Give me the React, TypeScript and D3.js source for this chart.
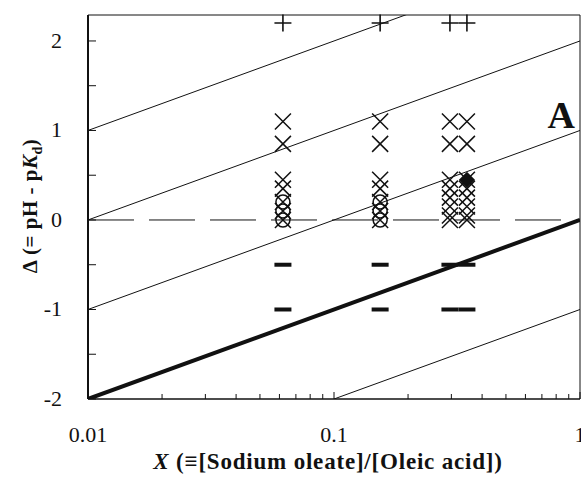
import React from "react";
import * as d3 from "d3";

// sample ratios X (one column of markers each)
const columns = [0.062, 0.154, 0.296, 0.347];
// Δ values
const plusY = [2.2];
const crossUpperY = [1.1, 0.85];
const crossLowerNarrow = [0.45, 0.35, 0.2, 0.1, 0];
const crossLowerWide = [0.45, 0.35, 0.25, 0.15, 0.05, 0];
const circleY = [0.2, 0.1, 0];
const minusY = [-0.5, -1];
const diamondPts = [{ x: 0.347, y: 0.45 }];
// boundary lines Δ = log10(X) + c
const thinOffsets = [3, 2, 1, -1];
const thickOffset = 0;
const yMajor = [-2, -1, 0, 1, 2];
const yMinor = [-1.5, -0.5, 0.5, 1.5];
const xMajor = [0.01, 0.1, 1];
const xLabels = ["0.01", "0.1", "1"];

const W = 581;
const H = 482;
const left = 88;
const right = 580;
const top = 15;
const bottom = 399;
const font = "'Liberation Serif', 'Times New Roman', serif";

export default function App() {
  const x = d3.scaleLog().domain([0.01, 1]).range([left, right]);
  const y = d3.scaleLinear().domain([-2, 2.29]).range([bottom, top]);

  const xMinor: number[] = [];
  [0.01, 0.1].forEach(d => {
    for (let k = 2; k <= 9; k++) xMinor.push(d * k);
  });

  // straight line Δ = log10(X) + c, starting where it enters the plot
  const segment = (c: number) => {
    const x0 = Math.max(0.01, Math.pow(10, -2 - c));
    const x1 = 1;
    return `M${x(x0)},${y(Math.log10(x0) + c)}L${x(x1)},${y(Math.log10(x1) + c)}`;
  };

  const cross = (cx: number, cy: number, s: number) =>
    `M${cx - s},${cy - s}L${cx + s},${cy + s}M${cx - s},${cy + s}L${cx + s},${cy - s}`;
  const plus = (cx: number, cy: number, s: number) =>
    `M${cx - s},${cy}L${cx + s},${cy}M${cx},${cy - s}L${cx},${cy + s}`;

  const crossPts: { x: number; y: number }[] = [];
  columns.forEach((c, i) => {
    crossUpperY.forEach(v => crossPts.push({ x: c, y: v }));
    (i < 2 ? crossLowerNarrow : crossLowerWide).forEach(v => crossPts.push({ x: c, y: v }));
  });
  const circlePts: { x: number; y: number }[] = [];
  columns.slice(0, 2).forEach(c => circleY.forEach(v => circlePts.push({ x: c, y: v })));

  return (
    <svg
      width={W}
      height={H}
      style={{ position: "absolute", left: 0, top: 0, background: "#fff" }}
      fontFamily={font}
    >
      <defs>
        <clipPath id="plot">
          <rect x={left} y={top} width={right - left} height={bottom - top} />
        </clipPath>
      </defs>

      <g clipPath="url(#plot)">
        {thinOffsets.map(c => (
          <path key={c} d={segment(c)} stroke="#111" strokeWidth={1} fill="none" />
        ))}
        <path d={segment(thickOffset)} stroke="#111" strokeWidth={4} fill="none" />
        <line
          x1={left}
          x2={right}
          y1={y(0)}
          y2={y(0)}
          stroke="#111"
          strokeWidth={1}
          strokeDasharray="46 15"
        />
      </g>

      {/* frame */}
      <line x1={left} x2={right} y1={top} y2={top} stroke="#111" strokeWidth={1} />
      <line x1={right} x2={right} y1={top} y2={bottom} stroke="#111" strokeWidth={1} />
      <line x1={left} x2={left} y1={top} y2={bottom} stroke="#111" strokeWidth={2} />
      <line x1={left} x2={right} y1={bottom} y2={bottom} stroke="#111" strokeWidth={1.5} />

      {/* y ticks */}
      {yMajor.concat(yMinor).map(v => (
        <line key={v} x1={left} x2={left + 8} y1={y(v)} y2={y(v)} stroke="#111" strokeWidth={1} />
      ))}
      {yMajor.map(v => (
        <text key={v} x={62} y={y(v) + 7} textAnchor="end" fontSize={22} fill="#111">
          {v}
        </text>
      ))}

      {/* x ticks */}
      {xMinor.map(v => (
        <line key={v} x1={x(v)} x2={x(v)} y1={bottom} y2={bottom - 5} stroke="#111" strokeWidth={1} />
      ))}
      {xMajor.map(v => (
        <line key={v} x1={x(v)} x2={x(v)} y1={bottom} y2={bottom - 7} stroke="#111" strokeWidth={1} />
      ))}
      {xMajor.map((v, i) => (
        <text key={v} x={x(v)} y={442} textAnchor="middle" fontSize={22} fill="#111">
          {xLabels[i]}
        </text>
      ))}

      {/* markers */}
      {columns.map(c =>
        plusY.map(v => (
          <path key={`p${c}${v}`} d={plus(x(c), y(v), 8.5)} stroke="#111" strokeWidth={1.6} fill="none" />
        ))
      )}
      {crossPts.map((p, i) => (
        <path key={`x${i}`} d={cross(x(p.x), y(p.y), 8)} stroke="#111" strokeWidth={1.5} fill="none" />
      ))}
      {circlePts.map((p, i) => (
        <circle key={`c${i}`} cx={x(p.x)} cy={y(p.y)} r={7} stroke="#111" strokeWidth={1.5} fill="none" />
      ))}
      {columns.map(c =>
        minusY.map(v => (
          <line
            key={`m${c}${v}`}
            x1={x(c) - 8.5}
            x2={x(c) + 8.5}
            y1={y(v)}
            y2={y(v)}
            stroke="#111"
            strokeWidth={4}
          />
        ))
      )}
      {diamondPts.map((p, i) => {
        const cx = x(p.x);
        const cy = y(p.y);
        const s = 8;
        return (
          <path key={`d${i}`} d={`M${cx},${cy - s}L${cx + s},${cy}L${cx},${cy + s}L${cx - s},${cy}Z`} fill="#111" />
        );
      })}

      <text x={575} y={128} textAnchor="end" fontSize={38} fontWeight="bold" fill="#111">
        A
      </text>

      {/* axis titles */}
      <text
        transform={`translate(37,206) rotate(-90)`}
        textAnchor="middle"
        fontSize={21}
        fontWeight="bold"
        letterSpacing={0.5}
        fill="#111"
      >
        <tspan>Δ (= pH - p</tspan>
        <tspan fontStyle="italic">K</tspan>
        <tspan fontSize={14} dy={5}>d</tspan>
        <tspan dy={-5}>)</tspan>
      </text>
      <text
        x={328}
        y={469}
        textAnchor="middle"
        fontSize={23}
        fontWeight="bold"
        letterSpacing={0.8}
        fill="#111"
      >
        <tspan fontStyle="italic">X</tspan>
        <tspan> (≡[Sodium oleate]/[Oleic acid])</tspan>
      </text>
    </svg>
  );
}
